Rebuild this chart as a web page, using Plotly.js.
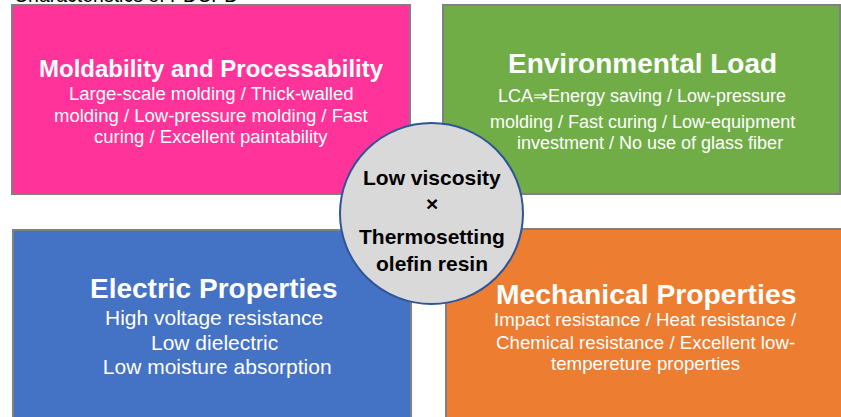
<!DOCTYPE html>
<html>
<head>
<meta charset="utf-8">
<script src="https://cdn.plot.ly/plotly-3.0.1.min.js"></script>
<style>html,body{margin:0;padding:0;background:#fff;}#chart{width:841px;height:417px;}</style>
</head>
<body>
<div id="chart"></div>
<script>
// ---- content (data) ----
const headerText = "Characteristics of PDCPD";
const quadrantTitles = ["Moldability and Processability", "Environmental Load", "Electric Properties", "Mechanical Properties"];
const quadrantLines = [
  ["Large-scale molding / Thick-walled", "molding / Low-pressure molding / Fast", "curing / Excellent paintability"],
  ["LCA\u21D2Energy saving / Low-pressure", "molding / Fast curing / Low-equipment", "   investment / No use of glass fiber"],
  ["High voltage resistance", "Low dielectric", " Low moisture absorption"],
  ["Impact resistance / Heat resistance /", "Chemical resistance / Excellent low-", "tempereture properties"]
];
const centerLines = ["Low viscosity", "\u00D7", "Thermosetting", "olefin resin"];

// ---- layout / style ----
const FONT = "Arial, 'Liberation Sans', sans-serif";
const boxes = [
  {x0: 12, x1: 410, y0: 5, y1: 194, fill: "#FF3399"},
  {x0: 443, x1: 840, y0: 5, y1: 194, fill: "#70AD47"},
  {x0: 13, x1: 411, y0: 230, y1: 425, fill: "#4472C4"},
  {x0: 446, x1: 848, y0: 229, y1: 425, fill: "#ED7D31"}
];
const titleStyle = [
  {x: 211, y: 68, size: 24},
  {x: 642, y: 63, size: 28},
  {x: 213, y: 288, size: 28},
  {x: 646, y: 294, size: 28.3}
];
const bodyStyle = [
  {x: 211, ys: [93, 115, 136], size: 18.5},
  {x: 642, ys: [96, 122, 143], size: 18},
  {x: 214, ys: [317, 342, 366], size: 21},
  {x: 645, ys: [319, 342, 363], size: 18.7}
];
const circle = {x0: 340, x1: 523, y0: 123, y1: 304};
const centerYs = [177, 203, 236, 263];

const shapes = [];
boxes.forEach(b => shapes.push({
  type: "rect", xref: "x", yref: "y", x0: b.x0, x1: b.x1, y0: b.y0, y1: b.y1,
  fillcolor: b.fill, line: {color: "#808080", width: 2}, layer: "above"
}));
shapes.push({type: "circle", xref: "x", yref: "y", x0: circle.x0, x1: circle.x1, y0: circle.y0, y1: circle.y1,
  fillcolor: "#D9D9D9", line: {color: "#2F5597", width: 2}, layer: "above"});

const annotations = [];
annotations.push({text: headerText, xref: "x", yref: "y", x: 13, y: 3.5, xanchor: "left", yanchor: "bottom",
  showarrow: false, font: {family: FONT, size: 19.5, color: "#000"}, borderpad: 0, yshift: -4});
quadrantTitles.forEach((t, i) => {
  annotations.push({text: "<b>" + t + "</b>", xref: "x", yref: "y", x: titleStyle[i].x, y: titleStyle[i].y,
    xanchor: "center", yanchor: "middle", showarrow: false, borderpad: 0,
    font: {family: FONT, size: titleStyle[i].size, color: "#fff"}});
  quadrantLines[i].forEach((ln, j) => {
    annotations.push({text: ln.replace(/^ +/, m => "\u00A0".repeat(m.length)), xref: "x", yref: "y",
      x: bodyStyle[i].x, y: bodyStyle[i].ys[j], xanchor: "center", yanchor: "middle", showarrow: false, borderpad: 0,
      font: {family: FONT, size: bodyStyle[i].size, color: "#fff"}});
  });
});
centerLines.forEach((ln, j) => {
  annotations.push({text: "<b>" + ln + "</b>", xref: "x", yref: "y", x: 432, y: centerYs[j],
    xanchor: "center", yanchor: "middle", showarrow: false, borderpad: 0,
    font: {family: FONT, size: 21, color: "#000"}});
});

const layout = {
  width: 841, height: 417,
  margin: {l: 0, r: 0, t: 0, b: 0, pad: 0},
  paper_bgcolor: "#fff", plot_bgcolor: "#fff",
  xaxis: {range: [0, 841], visible: false, fixedrange: true},
  yaxis: {range: [417, 0], visible: false, fixedrange: true},
  shapes: shapes, annotations: annotations, showlegend: false
};
Plotly.newPlot("chart", [], layout, {staticPlot: true, displayModeBar: false});
</script>
</body>
</html>
